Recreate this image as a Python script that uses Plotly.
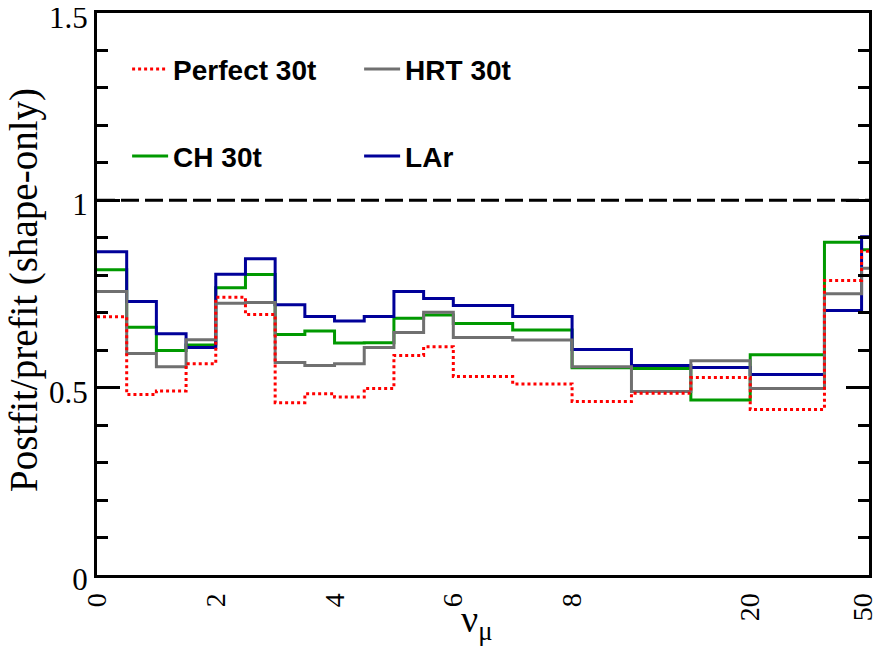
import plotly.graph_objects as go

# Bin edges on a display axis (0-8 linear, then wider bins labelled 20 and 50)
bin_edges = [0, 0.5, 1, 1.5, 2, 2.5, 3, 3.5, 4, 4.5, 5, 5.5, 6, 7, 8, 9, 10, 11, 12.25, 12.875, 13]

tick_vals = [0, 2, 4, 6, 8, 11, 12.9]
tick_text = ["0", "2", "4", "6", "8", "20", "50"]

perfect_30t = [0.689, 0.482, 0.491, 0.564, 0.741, 0.695, 0.460, 0.484, 0.475, 0.498,
               0.586, 0.609, 0.530, 0.510, 0.463, 0.485, 0.527, 0.442, 0.786, 0.864]
hrt_30t = [0.757, 0.591, 0.556, 0.628, 0.725, 0.727, 0.567, 0.559, 0.564, 0.607,
           0.647, 0.701, 0.634, 0.627, 0.556, 0.490, 0.572, 0.498, 0.751, 0.819]
ch_30t = [0.815, 0.661, 0.599, 0.614, 0.767, 0.802, 0.642, 0.651, 0.619, 0.620,
          0.685, 0.694, 0.671, 0.654, 0.553, 0.551, 0.467, 0.588, 0.888, 0.868]
lar = [0.863, 0.730, 0.644, 0.607, 0.803, 0.844, 0.721, 0.690, 0.678, 0.690,
       0.757, 0.738, 0.719, 0.690, 0.602, 0.559, 0.554, 0.535, 0.706, 0.903]

fig = go.Figure()

def step(name, vals, color, dash, legend, rank):
    fig.add_trace(go.Scatter(
        x=bin_edges, y=vals + [vals[-1]], mode="lines", name=name,
        line=dict(color=color, width=3, shape="hv", dash=dash),
        legend=legend, legendrank=rank,
    ))

step("CH 30t", ch_30t, "#009900", "solid", "legend2", 1)
step("LAr", lar, "#000099", "solid", "legend2", 2)
step("HRT 30t", hrt_30t, "#707070", "solid", "legend", 2)
step("Perfect 30t", perfect_30t, "#ff0000", "3px,3px", "legend", 1)

fig.add_shape(type="line", xref="paper", yref="y", x0=0, x1=1, y0=1, y1=1,
              line=dict(color="black", width=3, dash="18px,6px"), layer="below")

# axis titles
fig.add_annotation(text="ν<sub>μ</sub>", xref="paper", yref="paper", x=0.492, y=-0.083,
                   xanchor="center", yanchor="middle", showarrow=False,
                   font=dict(family="Liberation Serif", size=38, color="black"))
fig.add_annotation(text="Postfit/prefit (shape-only)", xref="paper", yref="paper",
                   x=-0.0946, y=0.507, xanchor="center", yanchor="middle", textangle=-90,
                   showarrow=False,
                   font=dict(family="Liberation Serif", size=39, color="black"))

legend_common = dict(
    orientation="h", xanchor="left", yanchor="middle",
    font=dict(family="Liberation Sans", size=28, color="black", weight="bold"),
    bgcolor="rgba(0,0,0,0)", borderwidth=0,
    entrywidth=181, entrywidthmode="pixels", itemwidth=36,
)

fig.update_layout(
    width=880, height=656,
    margin=dict(l=89, r=19, t=5, b=89),
    plot_bgcolor="white", paper_bgcolor="white",
    showlegend=True,
    legend=dict(x=0.039, y=0.900, **legend_common),
    legend2=dict(x=0.039, y=0.745, **legend_common),
    xaxis=dict(
        range=[0, 13], showline=True, linecolor="black", linewidth=3, mirror=True,
        showgrid=False, zeroline=False, ticks="", automargin=False,
        tickmode="array", tickvals=tick_vals, ticktext=tick_text, tickangle=-90,
        tickfont=dict(family="Liberation Serif", size=28, color="black"),
        ticklabelstandoff=4, ticklabeloverflow="allow",
    ),
    yaxis=dict(
        range=[0, 1.5], showline=True, linecolor="black", linewidth=3, mirror="ticks",
        showgrid=False, zeroline=False, automargin=False,
        ticks="inside", ticklen=23, tickwidth=3, tickcolor="black",
        tickmode="array", tickvals=[0, 0.5, 1, 1.5], ticktext=["0", "0.5", "1", "1.5"],
        tickfont=dict(family="Liberation Serif", size=31, color="black"),
        ticklabeloverflow="allow", ticklabelshift=4,
        minor=dict(ticks="inside", ticklen=11, tickwidth=3, tickcolor="black", dtick=0.1, showgrid=False),
    ),
)

fig.write_html("out.html")
